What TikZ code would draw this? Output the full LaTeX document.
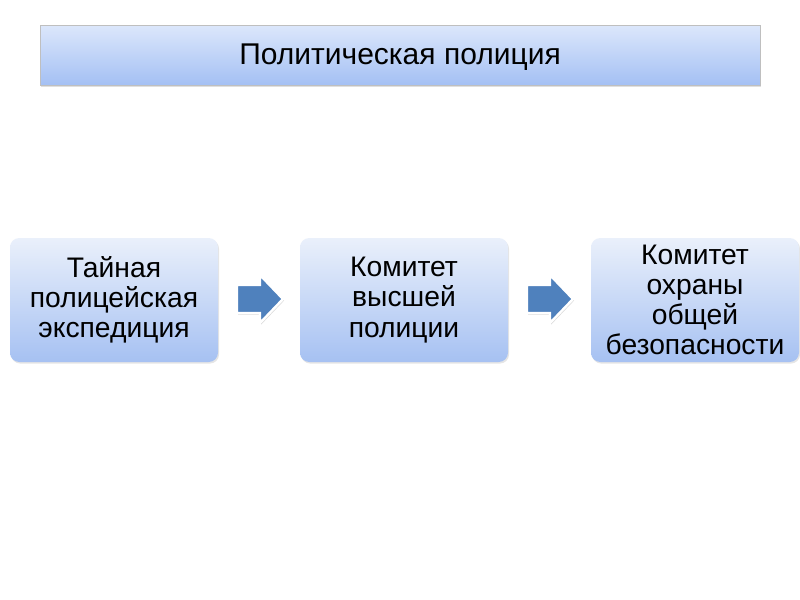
\documentclass[tikz,border=0pt]{standalone}
\usepackage{fontspec}
\setmainfont{Liberation Sans}
\usetikzlibrary{shadows}
\definecolor{boxtop}{HTML}{EAF0FB}
\definecolor{boxbot}{HTML}{A6C1F2}
\definecolor{titletop}{HTML}{DCE7FB}
\definecolor{titlebot}{HTML}{A4C0F4}
\definecolor{arrowblue}{HTML}{4F81BD}
\begin{document}
\begin{tikzpicture}[x=0.75pt,y=-0.75pt,
  titlebox/.style={draw=black!25, line width=0.4pt, top color=titletop, bottom color=titlebot,
    minimum width=540pt, minimum height=45pt, inner sep=0pt,
    drop shadow={shadow xshift=0.8pt,shadow yshift=-1.2pt,opacity=0.25},
    font=\fontsize{22.5}{25}\selectfont},
  stagebox/.style={draw=none, rounded corners=7pt, top color=boxtop, bottom color=boxbot,
    minimum width=156pt, minimum height=93pt, inner sep=0pt, align=center,
    drop shadow={shadow xshift=0.8pt,shadow yshift=-1.2pt,opacity=0.2},
    font=\fontsize{21.2}{22.6}\selectfont},
  blockarrow/.style={fill=arrowblue, draw=white, line width=1.8pt, line join=miter,
    drop shadow={shadow xshift=0.8pt,shadow yshift=-1.2pt,opacity=0.3}}
]
\useasboundingbox[fill=white] (0,0) rectangle (800,600);
\node[titlebox] (title) at (400,55) {\raisebox{-3pt}[12pt][4pt]{Политическая полиция}};
\node[stagebox] (s1) at (114,300) {Тайная\\полицейская\\экспедиция};
\node[stagebox] (s2) at (404,300) {Комитет\\высшей\\полиции};
\node[stagebox] (s3) at (695,300) {Комитет\\охраны\\общей\\безопасности};
\foreach \ox in {0,290}{
  \begin{scope}[xshift=\ox*0.75pt]
  \path[blockarrow] (237,285) -- (260,285) -- (260,275) -- (283,299) -- (260,323) -- (260,313) -- (237,313) -- cycle;
  \end{scope}
}
\end{tikzpicture}
\end{document}
